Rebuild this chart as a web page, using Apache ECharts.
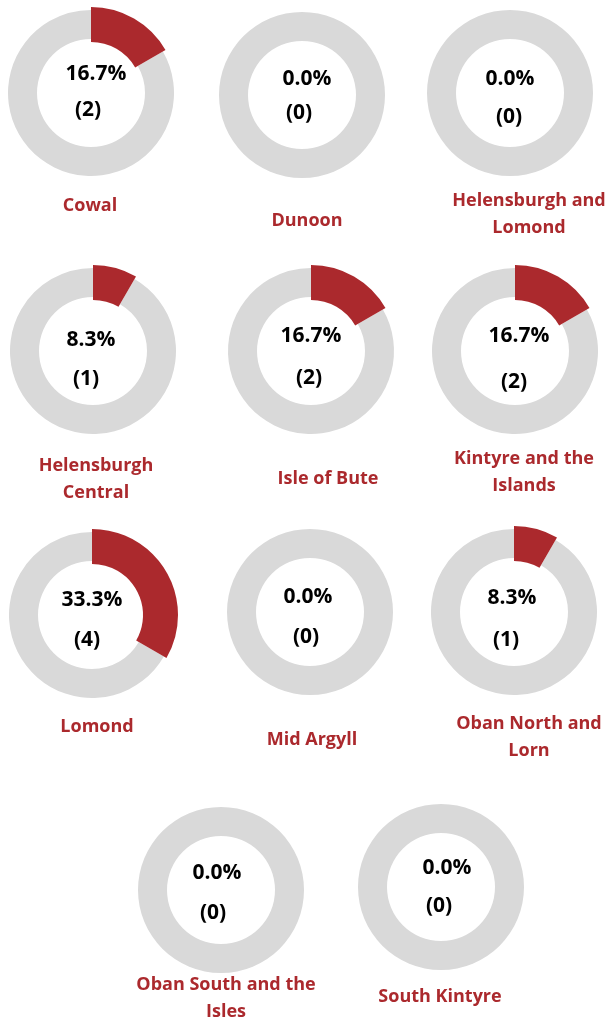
<!DOCTYPE html>
<html>
<head>
<meta charset="utf-8">
<script src="https://cdn.jsdelivr.net/npm/echarts@6/dist/echarts.min.js"></script>
<style>
  html, body { margin: 0; padding: 0; background: #fff; }
  #chart { width: 609px; height: 1021px; }
</style>
</head>
<body>
<div id="chart"></div>
<script>
// data
const areaNames = [
    'Cowal', 'Dunoon', 'Helensburgh and\nLomond',
    'Helensburgh\nCentral', 'Isle of Bute', 'Kintyre and the\nIslands',
    'Lomond', 'Mid Argyll', 'Oban North and\nLorn',
    'Oban South and the\nIsles', 'South Kintyre'
];
const areaCounts = [2, 0, 0, 1, 2, 2, 4, 0, 1, 0, 0];
const totalCount = 12;

// layout (pixel positions of each small donut and its texts)
const centers = [
    [91, 93], [302, 95], [510, 93],
    [93, 351], [311, 351], [515, 351],
    [92, 615], [310, 612], [514, 612],
    [221, 890], [441, 887]
];
const pctPos = [
    [96, 74], [307, 79], [510, 79],
    [91, 340], [311, 336], [519, 336],
    [92, 600], [308, 597], [512, 598],
    [217, 873], [447, 868]
];
const countPos = [
    [88, 110], [299, 113], [509, 117],
    [86, 379], [309, 378], [514, 382],
    [87, 640], [306, 637], [506, 640],
    [213, 913], [439, 906]
];
const namePos = [
    [90, 206], [307, 221], [529, 214],
    [96, 479], [328, 479], [524, 472],
    [97, 727], [312, 740], [529, 737],
    [226, 998], [440, 997]
];

const RED = '#ab292d';
const GREY = '#d9d9d9';
const FONT = '"Open Sans", Lato, sans-serif';

const series = [];
const graphics = [];

areaNames.forEach((name, i) => {
    const c = areaCounts[i];
    const rest = totalCount - c;
    // grey ring
    series.push({
        type: 'pie',
        center: centers[i],
        radius: [54, 83],
        startAngle: 90,
        silent: true,
        label: { show: false },
        labelLine: { show: false },
        data: [
            { value: c, itemStyle: { color: 'rgba(0,0,0,0)' } },
            { value: rest, itemStyle: { color: GREY } }
        ]
    });
    // red share, drawn a bit larger
    series.push({
        type: 'pie',
        center: centers[i],
        radius: [51, 86],
        startAngle: 90,
        silent: true,
        z: 3,
        label: { show: false },
        labelLine: { show: false },
        data: [
            { value: c, itemStyle: { color: RED } },
            { value: rest, itemStyle: { color: 'rgba(0,0,0,0)' } }
        ]
    });

    const pct = (c / totalCount * 100).toFixed(1) + '%';
    graphics.push({
        type: 'text', x: pctPos[i][0], y: pctPos[i][1], z: 10,
        style: { text: pct, fill: '#000', font: 'bold 21px ' + FONT, textAlign: 'center', textVerticalAlign: 'middle' }
    });
    graphics.push({
        type: 'text', x: countPos[i][0], y: countPos[i][1], z: 10,
        style: { text: '(' + c + ')', fill: '#000', font: 'bold 21px ' + FONT, textAlign: 'center', textVerticalAlign: 'middle' }
    });
    graphics.push({
        type: 'text', x: namePos[i][0], y: namePos[i][1], z: 10,
        style: { text: name, fill: RED, font: 'bold 18px ' + FONT, lineHeight: 27, textAlign: 'center', textVerticalAlign: 'middle' }
    });
});

const option = {
    animation: false,
    backgroundColor: '#fff',
    series: series,
    graphic: graphics
};

const myChart = echarts.init(document.getElementById('chart'));
myChart.setOption(option);
</script>
</body>
</html>
